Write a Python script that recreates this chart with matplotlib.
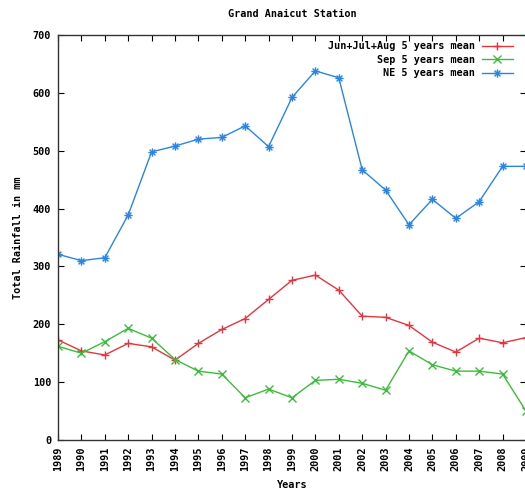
import matplotlib
matplotlib.use("Agg")
import matplotlib.pyplot as plt
from matplotlib.path import Path

years = list(range(1989, 2010))

jja_mean = [173, 154, 147, 167, 161, 138, 167, 191, 210, 243, 276, 285,
            259, 214, 212, 198, 169, 152, 176, 168, 177]
sep_mean = [162, 150, 170, 193, 176, 139, 119, 114, 73, 88, 73, 103,
            105, 98, 86, 154, 130, 119, 119, 114, 50]
ne_mean = [321, 310, 315, 389, 498, 508, 520, 523, 543, 507, 592, 638,
           626, 467, 432, 372, 416, 383, 412, 473, 473]

series_labels = ["Jun+Jul+Aug 5 years mean", "Sep 5 years mean", "NE 5 years mean"]
y_ticks = [0, 100, 200, 300, 400, 500, 600, 700]

# gnuplot-style asterisk: a plus and a cross on top of each other
asterisk = Path(
    [(-1, 0), (1, 0), (0, -1), (0, 1), (-0.7, -0.7), (0.7, 0.7), (-0.7, 0.7), (0.7, -0.7)],
    [Path.MOVETO, Path.LINETO] * 4,
)

font = {"family": "DejaVu Sans Mono", "weight": "bold", "size": 7.3}

fig = plt.figure(figsize=(5.25, 4.95), dpi=100)
ax = fig.add_axes([58 / 525, 55 / 495, (526 - 58) / 525, 405 / 495])

ax.plot(years, jja_mean, color="#e2363f", marker="+", markersize=6, lw=1.0,
        markeredgewidth=1.0, label=series_labels[0])
ax.plot(years, sep_mean, color="#3cbc3c", marker="x", markersize=5.5, lw=1.0,
        markeredgewidth=1.0, label=series_labels[1])
ax.plot(years, ne_mean, color="#2a86e0", marker=asterisk, markersize=6, lw=1.0,
        markeredgewidth=1.0, label=series_labels[2])

ax.set_xlim(1989, 2009)
ax.set_ylim(0, 700)
ax.set_xticks(years)
ax.set_xticklabels([str(y) for y in years], rotation=90, fontdict=font)
ax.set_yticks(y_ticks)
ax.set_yticklabels([str(v) for v in y_ticks], fontdict=font)

ax.tick_params(direction="in", length=4, width=0.8, top=True, right=True, color="black")
ax.tick_params(axis="y", pad=5)
ax.tick_params(axis="x", pad=5)
for s in ax.spines.values():
    s.set_linewidth(1.0)
    s.set_color("#333333")

ax.set_title("Grand Anaicut Station", fontdict=font, pad=13)
ax.set_xlabel("Years", fontdict=font, labelpad=6)
ax.set_ylabel("Total Rainfall in mm", fontdict=font, labelpad=7)

leg = ax.legend(loc="upper right", bbox_to_anchor=(0.98, 0.995), frameon=False,
                markerfirst=False, handlelength=3.0, handletextpad=0.7,
                labelspacing=0.35, borderaxespad=0.0,
                prop={"family": "DejaVu Sans Mono", "weight": "bold", "size": 7.3})

fig.savefig("out.png", dpi=100)
